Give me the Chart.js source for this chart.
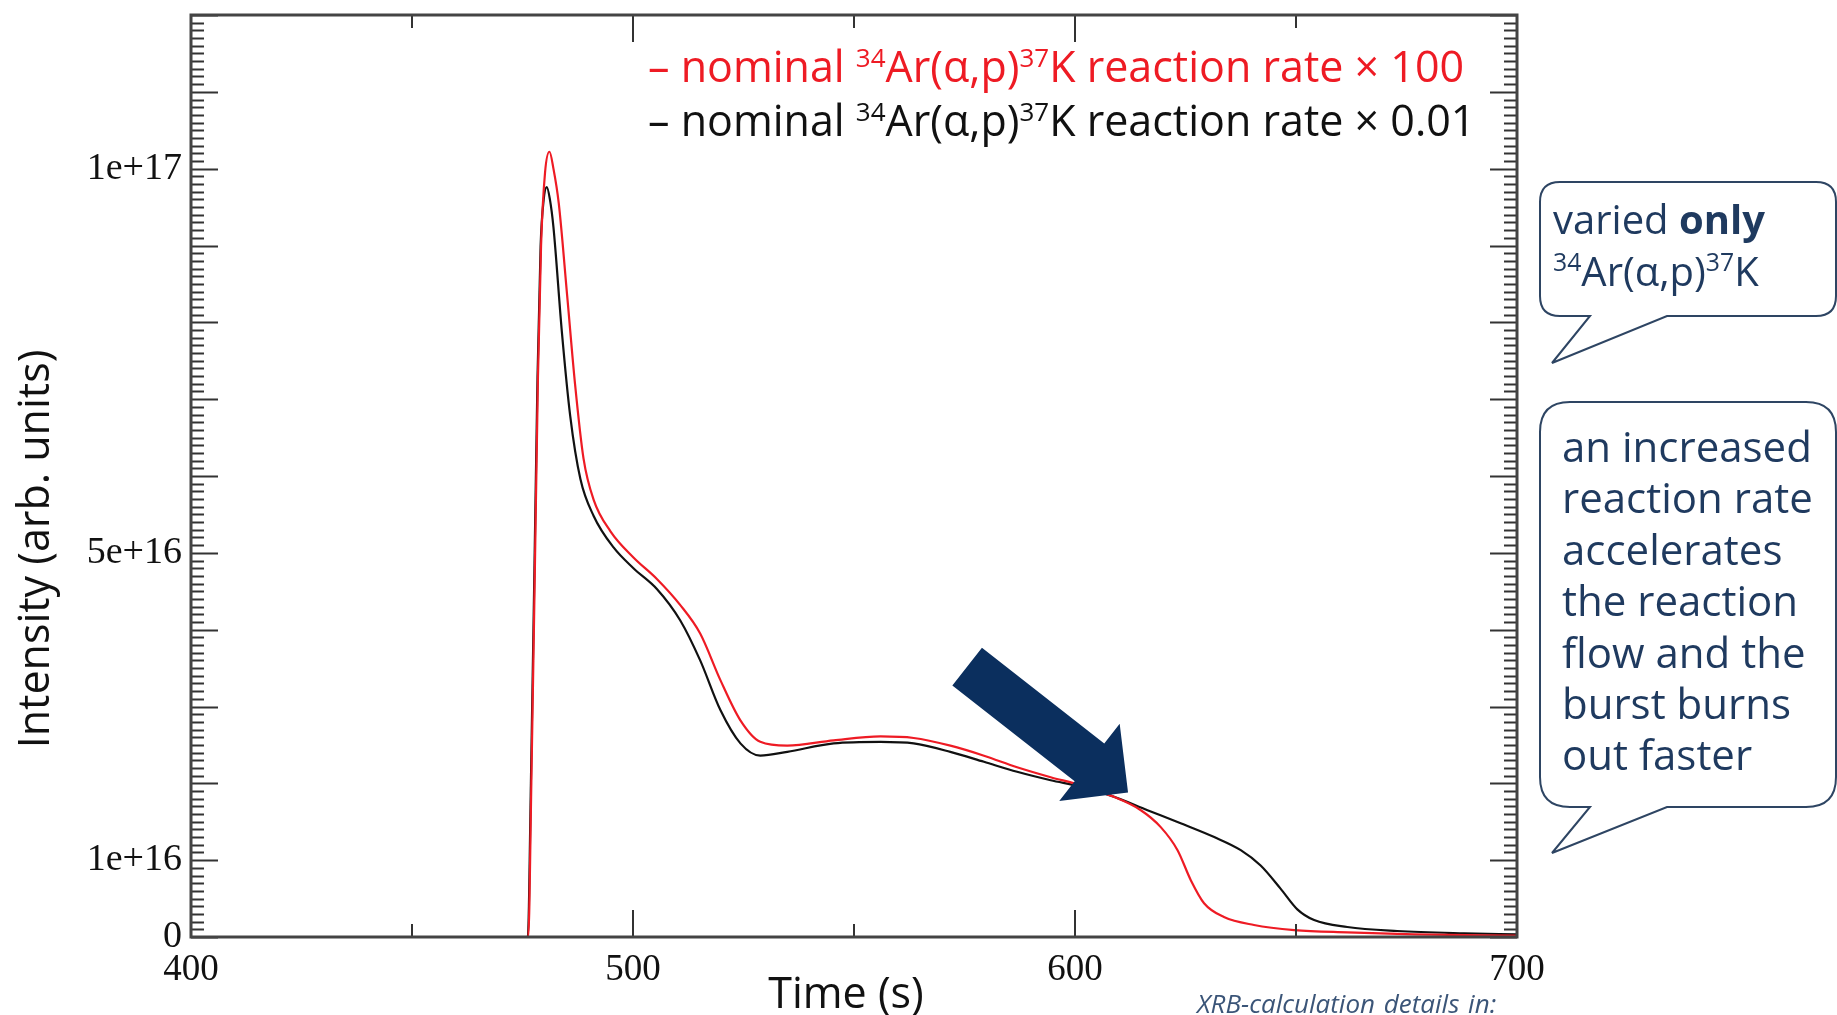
<!DOCTYPE html>
<html>
<head>
<meta charset="utf-8">
<script src="https://cdn.jsdelivr.net/npm/chart.js@4.4.1/dist/chart.umd.min.js"></script>
<style>
  html, body { margin: 0; padding: 0; background: #fff; overflow: hidden; }
  #wrap { position: relative; width: 1837px; height: 1015px; }
  #mainChart { position: absolute; left: 0; top: 0; }
  #bubbles { position: absolute; left: 0; top: 0; }
  .note { position: absolute; font-family: "Open Sans", sans-serif; color: #1f3a5f; white-space: nowrap; }
  .note sup { font-size: 0.62em; vertical-align: baseline; position: relative; top: -0.6em; line-height: 0; }
  #note1 { left: 1553px; top: 193px; font-size: 40px; line-height: 52px; }
  #note2 { left: 1562px; top: 420px; font-size: 42px; line-height: 51.4px; }
  #footer { position: absolute; left: 1197px; top: 989px; font-family: "Open Sans", sans-serif; font-style: italic;
            font-size: 26px; line-height: 28px; word-spacing: 2px; color: #3b5578; white-space: nowrap; }
</style>
</head>
<body>
<div id="wrap">
  <canvas id="mainChart" width="1837" height="1015"></canvas>
  <svg id="bubbles" width="1837" height="1015">
    <path d="M1560,182 H1816 Q1836,182 1836,202 V296 Q1836,316 1816,316 H1667 L1552,363 L1590,316 H1560 Q1540,316 1540,296 V202 Q1540,182 1560,182 Z"
          fill="#fff" stroke="#2e4563" stroke-width="2"/>
    <path d="M1570,402 H1806 Q1836,402 1836,432 V777 Q1836,807 1806,807 H1667 L1552,853 L1590,807 H1570 Q1540,807 1540,777 V432 Q1540,402 1570,402 Z"
          fill="#fff" stroke="#2e4563" stroke-width="2"/>
  </svg>
  <div class="note" id="note1">varied <b>only</b><br><sup>34</sup>Ar(α,p)<sup>37</sup>K</div>
  <div class="note" id="note2">an increased<br>reaction rate<br>accelerates<br>the reaction<br>flow and the<br>burst burns<br>out faster</div>
  <div id="footer">XRB-calculation details in:</div>
</div>
<script>
// light curve, rate x 100 (red)
const timeFast = [400, 450, 476.3, 477.0, 477.8, 478.5, 479.2, 480.1, 481.1, 482.0, 483.2, 485.1, 486.9,
    488.8, 491.1, 494.9, 500.1, 505.4, 510.7, 515.2, 519.8, 524.3, 528.8, 534.9, 545.4, 556.0, 563.5,
    571.8, 579.4, 586.9, 594.5, 601.0, 608.1, 614.9, 619.4, 623.2, 626.2, 629.2, 633.7, 640.5, 649.6,
    661.6, 676.7, 700]
const intensityFast = [0, 0, 0, 2.0e16, 4.8e16, 7.3e16, 9.0e16, 9.95e16, 10.22e16, 10.0e16, 9.55e16, 8.35e16, 7.19e16,
    6.23e16, 5.69e16, 5.28e16, 4.94e16, 4.66e16, 4.32e16, 3.95e16, 3.34e16, 2.82e16, 2.54e16, 2.49e16, 2.56e16, 2.61e16, 2.59e16,
    2.49e16, 2.36e16, 2.21e16, 2.08e16, 1.98e16, 1.84e16, 1.65e16, 1.43e16, 1.13e16, 0.74e16, 0.44e16, 0.26e16, 0.156e16, 0.09e16,
    0.06e16, 0.035e16, 0.017e16]

// light curve, rate x 0.01 (black)
const timeSlow = [400, 450, 476.2, 476.9, 477.7, 478.4, 479.1, 479.8, 480.5, 481.2, 482.0, 483.9, 485.8,
    488.1, 491.1, 495.6, 500.1, 505.4, 510.7, 515.2, 519.8, 524.3, 528.8, 534.9, 545.4, 556.0, 563.5,
    571.8, 579.4, 586.9, 594.5, 601.0, 608.1, 616.4, 623.9, 631.5, 637.5, 642.0, 646.5, 650.3, 654.1,
    661.6, 672.9, 688.0, 700]
const intensitySlow = [0, 0, 0, 2.0e16, 4.8e16, 7.3e16, 9.0e16, 9.6e16, 9.76e16, 9.6e16, 9.24e16, 7.88e16, 6.78e16,
    5.96e16, 5.48e16, 5.07e16, 4.80e16, 4.53e16, 4.12e16, 3.60e16, 2.95e16, 2.52e16, 2.36e16, 2.41e16, 2.52e16, 2.54e16, 2.52e16,
    2.41e16, 2.28e16, 2.15e16, 2.04e16, 1.96e16, 1.84e16, 1.65e16, 1.48e16, 1.30e16, 1.13e16, 0.93e16, 0.63e16, 0.36e16, 0.22e16,
    0.13e16, 0.078e16, 0.048e16, 0.035e16]

// tick labels
const xTickValues = [400, 500, 600, 700]
const yTickValues = [0, 1e16, 5e16, 1e17]
const yTickLabels = ["0", "1e+16", "5e+16", "1e+17"]

// legend
const legendRows = [
    {color: "#ee1b24", parts: ["– nominal ", "^34", "Ar(α,p)", "^37", "K reaction rate × 100"]},
    {color: "#111111", parts: ["– nominal ", "^34", "Ar(α,p)", "^37", "K reaction rate × 0.01"]}
]

// arrow, in data units
const arrowTail = {x: 575.6, y: 3.52e16}
const arrowTip = {x: 612.0, y: 1.88e16}

const serif = "'Liberation Serif', 'Times New Roman', serif"
const sans = "'Open Sans', sans-serif"

function toPoints(xs, ys) {
    return xs.map((t, i) => ({x: t, y: ys[i]}))
}

function isMultiple(v, step) {
    let r = v / step
    return Math.abs(r - Math.round(r)) < 1e-6
}

const frameTicks = {
    id: "frameTicks",
    afterDatasetsDraw(chart) {
        const {ctx, chartArea: a, scales: {x, y}} = chart
        ctx.save()
        ctx.strokeStyle = "#333"
        ctx.lineWidth = 2
        ctx.beginPath()
        x.ticks.forEach(t => {
            let px = Math.round(x.getPixelForValue(t.value))
            let len = isMultiple(t.value, 100) ? 27 : 13
            ctx.moveTo(px, a.bottom); ctx.lineTo(px, a.bottom - len)
            ctx.moveTo(px, a.top); ctx.lineTo(px, a.top + len)
        })
        y.ticks.forEach(t => {
            let py = Math.round(y.getPixelForValue(t.value)) + 0.5
            let len = isMultiple(t.value, 1e16) ? 27 : 13
            ctx.moveTo(a.left, py); ctx.lineTo(a.left + len, py)
            ctx.moveTo(a.right, py); ctx.lineTo(a.right - len, py)
        })
        ctx.stroke()
        ctx.lineWidth = 3
        ctx.strokeStyle = "#444"
        ctx.strokeRect(a.left, a.top, a.width, a.height)

        // big arrow
        let p0 = {x: x.getPixelForValue(arrowTail.x), y: y.getPixelForValue(arrowTail.y)}
        let p1 = {x: x.getPixelForValue(arrowTip.x), y: y.getPixelForValue(arrowTip.y)}
        let dx = p1.x - p0.x, dy = p1.y - p0.y
        let len = Math.hypot(dx, dy)
        let ux = dx / len, uy = dy / len
        let nx = -uy, ny = ux
        let shaft = 24, head = 49, headLen = 49
        let bx = p1.x - ux * headLen, by = p1.y - uy * headLen
        ctx.fillStyle = "#0b2f5e"
        ctx.beginPath()
        ctx.moveTo(p0.x + nx * shaft, p0.y + ny * shaft)
        ctx.lineTo(bx + nx * shaft, by + ny * shaft)
        ctx.lineTo(bx + nx * head, by + ny * head)
        ctx.lineTo(p1.x, p1.y)
        ctx.lineTo(bx - nx * head, by - ny * head)
        ctx.lineTo(bx - nx * shaft, by - ny * shaft)
        ctx.lineTo(p0.x - nx * shaft, p0.y - ny * shaft)
        ctx.closePath()
        ctx.fill()

        // legend with superscripts
        let fontSize = 43
        legendRows.forEach((row, i) => {
            let cx = a.left + 457
            let base = a.top + 67 + i * 54
            ctx.fillStyle = row.color
            ctx.textBaseline = "alphabetic"
            ctx.textAlign = "left"
            row.parts.forEach(part => {
                if (part.startsWith("^")) {
                    ctx.font = Math.round(fontSize * 0.6) + "px " + sans
                    let s = part.slice(1)
                    ctx.fillText(s, cx, base - fontSize * 0.34)
                    cx += ctx.measureText(s).width
                } else {
                    ctx.font = fontSize + "px " + sans
                    ctx.fillText(part, cx, base)
                    cx += ctx.measureText(part).width
                }
            })
        })

        // axis titles
        ctx.font = "43px " + sans
        ctx.fillStyle = "#111"
        ctx.textAlign = "center"
        ctx.textBaseline = "middle"
        ctx.fillText("Time (s)", 846, 996)
        ctx.translate(37, 549)
        ctx.rotate(-Math.PI / 2)
        ctx.fillText("Intensity (arb. units)", 0, 0)
        ctx.restore()
    }
}

const ctx = document.getElementById("mainChart").getContext("2d")
window.myChart = new Chart(ctx, {
    type: "line",
    data: {
        datasets: [
            {
                label: "rate x 100",
                data: toPoints(timeFast, intensityFast),
                borderColor: "#ee1b24",
                borderWidth: 2.2,
                pointRadius: 0,
                fill: false,
                cubicInterpolationMode: "monotone"
            },
            {
                label: "rate x 0.01",
                data: toPoints(timeSlow, intensitySlow),
                borderColor: "#111111",
                borderWidth: 2.2,
                pointRadius: 0,
                fill: false,
                cubicInterpolationMode: "monotone"
            }
        ]
    },
    options: {
        responsive: false,
        animation: false,
        layout: {padding: {left: 5, right: 320, top: 15, bottom: 0}},
        plugins: {
            legend: {display: false},
            tooltip: {enabled: false}
        },
        scales: {
            x: {
                type: "linear",
                min: 400,
                max: 700,
                grid: {display: false, drawTicks: false},
                border: {display: false},
                ticks: {
                    stepSize: 50,
                    autoSkip: false,
                    maxRotation: 0,
                    padding: 11,
                    color: "#111",
                    font: {family: serif, size: 37},
                    callback: v => xTickValues.includes(v) ? String(v) : ""
                },
                afterFit: scale => {
                    scale.height = 78
                    scale.paddingLeft = 0
                    scale.paddingRight = 0
                }
            },
            y: {
                type: "linear",
                min: 0,
                max: 1.2e17,
                grid: {display: false, drawTicks: false},
                border: {display: false},
                ticks: {
                    stepSize: 1e15,
                    maxTicksLimit: 200,
                    autoSkip: false,
                    padding: 9,
                    color: "#111",
                    font: {family: serif, size: 38},
                    callback: v => {
                        let k = yTickValues.findIndex(t => Math.abs(t - v) < 1e12)
                        return k >= 0 ? yTickLabels[k] : ""
                    }
                },
                afterFit: scale => {
                    scale.width = 186
                    scale.paddingTop = 0
                    scale.paddingBottom = 0
                }
            }
        }
    },
    plugins: [frameTicks]
})
</script>
</body>
</html>
